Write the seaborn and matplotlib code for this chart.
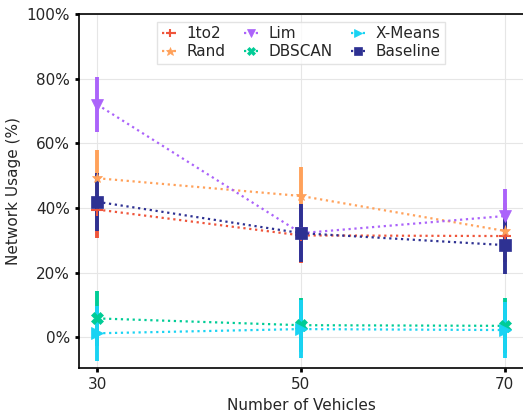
import numpy as np
import pandas as pd
import matplotlib
matplotlib.use("Agg")
import matplotlib.pyplot as plt
import seaborn as sns
from matplotlib.ticker import PercentFormatter

vehicles = [30, 50, 70]
methods = ["1to2", "Rand", "Lim", "DBSCAN", "X-Means", "Baseline"]

usage_1to2 = [39.5, 31.5, 31.3]
usage_rand = [49.2, 43.7, 32.9]
usage_lim = [72.0, 32.2, 37.5]
usage_dbscan = [5.8, 3.7, 3.5]
usage_xmeans = [1.2, 2.5, 2.2]
usage_baseline = [41.9, 32.2, 28.5]

err_1to2 = [8.8, 8.5, 8.0]
err_rand = [8.8, 9.0, 8.5]
err_lim = [8.5, 9.0, 8.5]
err_dbscan = [8.5, 8.3, 8.5]
err_xmeans = [8.5, 9.0, 8.8]
err_baseline = [9.0, 9.0, 8.8]

colors = ["#EF553B", "#FFA15A", "#AB63FA", "#00CC96", "#19D3F3", "#2E3192"]
markers = ["+", "*", "v", "X", ">", "s"]

values = [usage_1to2, usage_rand, usage_lim, usage_dbscan, usage_xmeans, usage_baseline]
errors = [err_1to2, err_rand, err_lim, err_dbscan, err_xmeans, err_baseline]

df = pd.DataFrame({
    "vehicles": np.tile(vehicles, len(methods)),
    "usage": np.concatenate(values),
    "err": np.concatenate(errors),
    "method": np.repeat(methods, len(vehicles)),
})

sns.set_style("whitegrid", {"grid.color": "#e6e6e6", "axes.edgecolor": "black"})
plt.rcParams["font.family"] = ["DejaVu Sans"]

fig = plt.figure(figsize=(5.23, 4.16), dpi=100)
ax = fig.add_axes([0.151, 0.115, 0.849, 0.851])

for m, c, mk in zip(methods, colors, markers):
    sub = df[df["method"] == m]
    ax.errorbar(sub["vehicles"], sub["usage"], yerr=sub["err"], fmt="none",
                ecolor=c, elinewidth=2.8, capsize=0, zorder=2)
    sns.lineplot(data=sub, x="vehicles", y="usage", ax=ax, color=c,
                 marker=mk, markersize=8, markeredgewidth=1.5 if mk == "+" else 0.5,
                 markeredgecolor=c, linestyle=":", linewidth=1.6, label=m, zorder=3)

ax.set_xlim(28.2, 71.8)
ax.set_ylim(-9.6, 100)
ax.set_xticks(vehicles)
ax.set_yticks([0, 20, 40, 60, 80, 100])
ax.yaxis.set_major_formatter(PercentFormatter(decimals=0))
ax.tick_params(axis="both", labelsize=11, length=3, width=2, color="black",
               direction="out", left=True, bottom=True)
ax.set_xlabel("Number of Vehicles", fontsize=11)
ax.set_ylabel("Network Usage (%)", fontsize=11)

ax.spines["right"].set_visible(False)
for side in ["left", "bottom", "top"]:
    ax.spines[side].set_color("black")
    ax.spines[side].set_linewidth(1.2)

leg = ax.legend(loc="upper center", ncol=3, fontsize=11, frameon=True,
                handlelength=1.0, columnspacing=1.2, handletextpad=0.6,
                borderpad=0.3, labelspacing=0.2, fancybox=False, markerscale=0.8,
                bbox_to_anchor=(0.5, 1.0))
leg.get_frame().set_edgecolor("#dddddd")

fig.savefig("out.png", dpi=100)
